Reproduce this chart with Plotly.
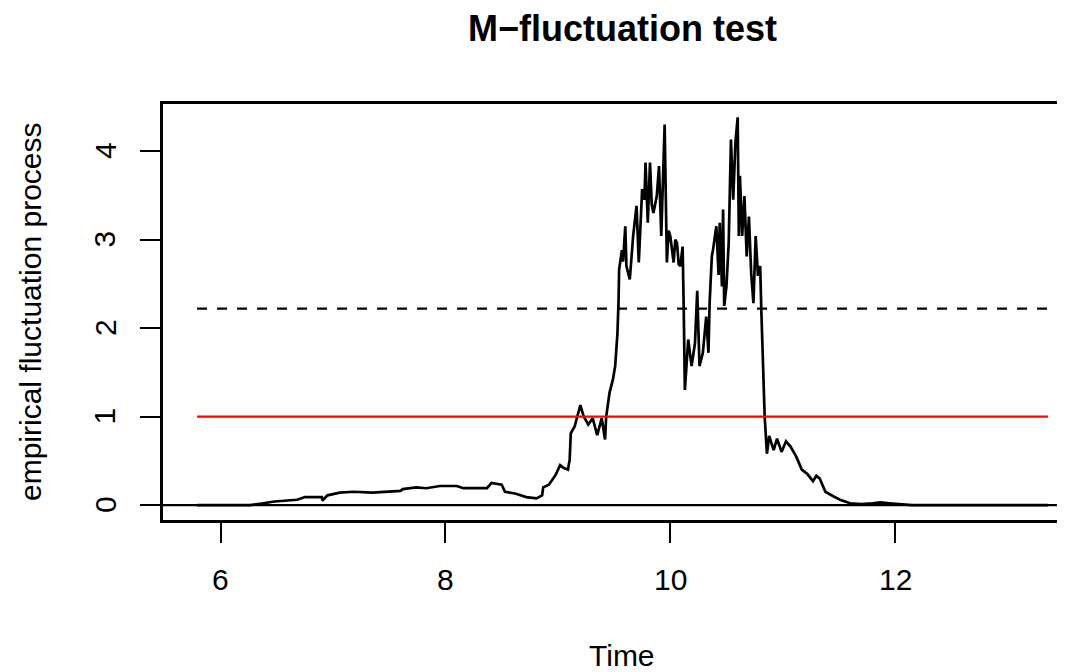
import plotly.graph_objects as go

# ---- data ----
time = [5.79, 6.26, 6.38, 6.48, 6.68, 6.75, 6.90, 6.905, 6.95, 7.06, 7.18, 7.35,
        7.60, 7.62, 7.74, 7.83, 7.95, 8.10, 8.16, 8.37, 8.41, 8.50, 8.53, 8.62,
        8.72, 8.81, 8.86, 8.87, 8.92, 8.95, 8.98, 9.02, 9.05, 9.09, 9.105, 9.115,
        9.15, 9.20, 9.23, 9.27, 9.31, 9.35, 9.39, 9.42, 9.43, 9.46, 9.49, 9.51,
        9.53, 9.54, 9.545, 9.57, 9.58, 9.60, 9.61, 9.64, 9.67, 9.70, 9.72, 9.75,
        9.77, 9.78, 9.80, 9.82, 9.835, 9.85, 9.88, 9.90, 9.92, 9.95, 9.97, 9.985,
        10.00, 10.03, 10.045, 10.06, 10.075, 10.09, 10.11, 10.12, 10.13, 10.16,
        10.19, 10.22, 10.24, 10.26, 10.29, 10.32, 10.34, 10.35, 10.37, 10.38,
        10.41, 10.43, 10.44, 10.46, 10.47, 10.48, 10.50, 10.52, 10.53, 10.54,
        10.56, 10.58, 10.60, 10.61, 10.62, 10.64, 10.66, 10.68, 10.70, 10.72,
        10.74, 10.76, 10.78, 10.80, 10.81, 10.83, 10.84, 10.86, 10.88, 10.92,
        10.95, 10.99, 11.03, 11.07, 11.12, 11.17, 11.22, 11.27, 11.30, 11.33,
        11.38, 11.45, 11.51, 11.60, 11.70, 11.80, 11.87, 11.95, 12.04, 12.15,
        12.31, 13.36]
efp = [0.00, 0.00, 0.02, 0.04, 0.06, 0.09, 0.09, 0.05, 0.11, 0.14, 0.15, 0.14,
       0.16, 0.18, 0.20, 0.19, 0.215, 0.215, 0.19, 0.19, 0.25, 0.23, 0.15, 0.13,
       0.09, 0.075, 0.11, 0.20, 0.23, 0.28, 0.34, 0.45, 0.42, 0.40, 0.51, 0.81,
       0.89, 1.13, 1.00, 0.91, 0.98, 0.79, 0.98, 0.74, 1.00, 1.27, 1.42, 1.57,
       1.94, 2.30, 2.66, 2.88, 2.75, 3.15, 2.70, 2.55, 3.04, 3.38, 2.74, 3.57,
       3.45, 3.87, 3.19, 3.87, 3.40, 3.30, 3.49, 3.83, 3.04, 4.30, 2.74, 3.10,
       3.04, 2.74, 3.00, 2.96, 2.72, 2.70, 2.92, 2.21, 1.30, 1.87,
       1.57, 1.83, 2.42, 1.57, 1.72, 2.13, 1.72, 2.28, 2.81, 2.88,
       3.15, 2.60, 3.19, 2.47, 3.34, 2.25, 2.47, 2.96, 3.57, 4.13,
       3.45, 4.10, 4.38, 3.04, 3.72, 3.04, 3.49, 2.81, 3.26, 2.62,
       2.28, 3.04, 2.59, 2.70, 2.21, 1.23, 1.00, 0.58, 0.78, 0.62,
       0.75, 0.60, 0.72, 0.66, 0.55, 0.40, 0.35, 0.27, 0.33, 0.30,
       0.15, 0.10, 0.06, 0.02, 0.01, 0.02, 0.03, 0.02, 0.01, 0.00,
       0.00, 0.00]
boundary = 2.22
mean_level = 1.0

title_text = "M\u2212fluctuation test"
x_title = "Time"
y_title = "empirical fluctuation process"
x_ticks = [6, 8, 10, 12]
y_ticks = [0, 1, 2, 3, 4]

FONT = "Liberation Sans, Arial, Helvetica, sans-serif"

# the page body has an 8px default margin, so the figure is sized to fit the window
W, H = 1057, 664
L, T, B = 155, 96, 152
PW, PH = W - L, H - T - B
BOTTOM = T + PH  # figure y of the plot's lower edge


def py(fig_y):
    """figure pixel row -> paper y"""
    return (BOTTOM - fig_y) / PH


def px(fig_x):
    """figure pixel column -> paper x"""
    return (fig_x - L) / PW


fig = go.Figure()
fig.add_trace(go.Scatter(x=time, y=efp, mode="lines",
                         line=dict(color="black", width=2.7), showlegend=False))
fig.add_trace(go.Scatter(x=[time[0], time[-1]], y=[boundary, boundary], mode="lines",
                         line=dict(color="black", width=2.2, dash="10px,10px"),
                         showlegend=False))
fig.add_trace(go.Scatter(x=[time[0], time[-1]], y=[mean_level, mean_level], mode="lines",
                         line=dict(color="#ff0000", width=2.2), showlegend=False))

# abline(h = 0)
fig.add_shape(type="line", xref="paper", yref="y", x0=0, x1=1, y0=0, y1=0,
              line=dict(color="black", width=2.2))

annotations = [
    dict(text="<b>" + title_text + "</b>", xref="paper", yref="paper",
         x=px(614), y=py(20), xanchor="center", yanchor="middle",
         showarrow=False, font=dict(size=36)),
    dict(text=x_title, xref="paper", yref="paper",
         x=px(614), y=py(647), xanchor="center", yanchor="middle",
         showarrow=False, font=dict(size=30)),
    dict(text=y_title, xref="paper", yref="paper", textangle=-90,
         x=px(22), y=0.5, xanchor="center", yanchor="middle",
         showarrow=False, font=dict(size=30)),
]
for v in x_ticks:
    annotations.append(dict(text=str(v), xref="x", yref="paper", x=v, y=py(571),
                            xanchor="center", yanchor="middle", showarrow=False,
                            font=dict(size=30)))
for v in y_ticks:
    annotations.append(dict(text=str(v), xref="paper", yref="y", x=px(97), y=v,
                            textangle=-90, xanchor="center", yanchor="middle",
                            showarrow=False, font=dict(size=30)))

fig.update_layout(
    width=W, height=H,
    margin=dict(l=L, r=0, t=T, b=B, pad=0),
    paper_bgcolor="white", plot_bgcolor="white",
    font=dict(family=FONT, size=30, color="black"),
    xaxis=dict(range=[5.487, 13.512], tickvals=x_ticks, showticklabels=False,
               showgrid=False, zeroline=False, showline=True, mirror=True,
               linecolor="black", linewidth=2.5, ticks="outside", ticklen=20,
               tickwidth=2.2, tickcolor="black"),
    yaxis=dict(range=[-0.169, 4.531], tickvals=y_ticks, showticklabels=False,
               showgrid=False, zeroline=False, showline=True, mirror=False,
               linecolor="black", linewidth=2.5, ticks="outside", ticklen=20,
               tickwidth=2.2, tickcolor="black"),
    annotations=annotations,
)

fig.write_html("out.html")
